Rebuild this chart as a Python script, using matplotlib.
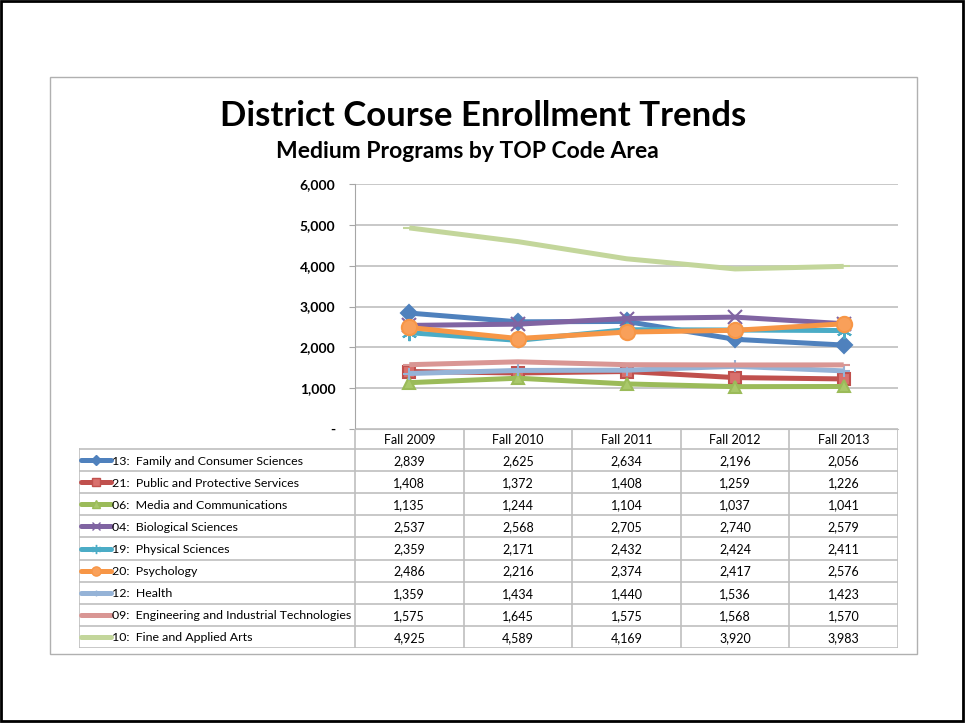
import matplotlib
matplotlib.use("Agg")
import matplotlib.pyplot as plt
from matplotlib.patches import Rectangle
from matplotlib.lines import Line2D
from matplotlib.ticker import FuncFormatter

plt.rcParams['font.family'] = ['Lato', 'DejaVu Sans']

# datos
anios = ["Fall 2009", "Fall 2010", "Fall 2011", "Fall 2012", "Fall 2013"]

programas = [
    "13:  Family and Consumer Sciences",
    "21:  Public and Protective Services",
    "06:  Media and Communications",
    "04:  Biological Sciences",
    "19:  Physical Sciences",
    "20:  Psychology",
    "12:  Health",
    "09:  Engineering and Industrial Technologies",
    "10:  Fine and Applied Arts",
]

familia = [2839, 2625, 2634, 2196, 2056]
publico = [1408, 1372, 1408, 1259, 1226]
medios = [1135, 1244, 1104, 1037, 1041]
biologia = [2537, 2568, 2705, 2740, 2579]
fisica = [2359, 2171, 2432, 2424, 2411]
psicologia = [2486, 2216, 2374, 2417, 2576]
salud = [1359, 1434, 1440, 1536, 1423]
ingenieria = [1575, 1645, 1575, 1568, 1570]
artes = [4925, 4589, 4169, 3920, 3983]

series = [familia, publico, medios, biologia, fisica, psicologia, salud, ingenieria, artes]

# estilos (colores de Excel)
colores = ["#4F81BD", "#C0504D", "#9BBB59", "#8064A2", "#4BACC6",
           "#F79646", "#95B3D7", "#D99694", "#C3D69B"]
marcadores = ["D", "s", "^", "x", (6, 2, 0), "o", "+", "_", "_"]
tam_marc = [8, 9, 9, 10, 11, 11, 8, 8, 8]
caras = ["#4F81BD", "#D9706D", "#A9C86A", "#8064A2", "#4BACC6",
         "#F9A05A", "#95B3D7", "#D99694", "#C3D69B"]

W, H = 965, 723
fig = plt.figure(figsize=(W / 100, H / 100), dpi=100)


def fx(x):
    return x / W


def fy(y):
    return 1 - y / H


# marcos
fig.patches.append(Rectangle((fx(1), fy(721)), fx(962), (720) / H, transform=fig.transFigure,
                             fill=False, edgecolor="black", linewidth=2))
fig.patches.append(Rectangle((fx(50), fy(654)), fx(917 - 50), (654 - 77) / H, transform=fig.transFigure,
                             fill=False, edgecolor="#b0b0b0", linewidth=1))

# titulos
fig.text(fx(483), fy(116), "District Course Enrollment Trends", ha="center", va="center",
         fontsize=25, fontweight="bold")
fig.text(fx(467), fy(152), "Medium Programs by TOP Code Area", ha="center", va="center",
         fontsize=16.5, fontweight="bold")

# grafica
izq, der, arriba, abajo = 355, 898, 184, 429
ax = fig.add_axes([fx(izq), fy(abajo), fx(der - izq), (abajo - arriba) / H])
x = range(len(anios))
for i, datos in enumerate(series):
    ax.plot(x, datos, color=colores[i], linewidth=3.6, marker=marcadores[i],
            markersize=tam_marc[i], markerfacecolor=caras[i], markeredgecolor=colores[i],
            markeredgewidth=1.5, solid_capstyle="butt", zorder=3 + i)

ax.set_xlim(-0.5, len(anios) - 0.5)
ax.set_ylim(0, 6000)
ax.set_yticks(range(0, 6001, 1000))
ax.yaxis.set_major_formatter(FuncFormatter(lambda v, p: "-" if v == 0 else f"{int(v):,}"))
ax.set_xticks([])
ax.grid(axis="y", color="#bfbfbf", linewidth=1.2)
ax.set_axisbelow(True)
for s in ["top", "right"]:
    ax.spines[s].set_visible(False)
ax.spines["left"].set_color("#a6a6a6")
ax.spines["bottom"].set_color("#bfbfbf")
ax.tick_params(axis="y", length=4, color="#a6a6a6", labelsize=10, pad=10)
for t in ax.get_yticklabels():
    t.set_fontweight("bold")

# tabla
t_izq, t_arr, t_enc, t_fin = 79, 429, 449, 648
tax = fig.add_axes([fx(t_izq), fy(t_fin), fx(der - t_izq), (t_fin - t_arr) / H])
tax.set_xlim(t_izq, der)
tax.set_ylim(t_fin, t_arr)
tax.axis("off")

n = len(programas)
alto = (t_fin - t_enc) / n
ancho = (der - izq) / len(anios)
gris = "#bfbfbf"

tax.plot([izq, der], [t_arr, t_arr], color=gris, lw=1.2)
for k in range(n + 1):
    yy = t_enc + k * alto
    tax.plot([t_izq, der], [yy, yy], color=gris, lw=1.2)
tax.plot([t_izq, t_izq], [t_enc, t_fin], color=gris, lw=1.2)
for c in range(len(anios) + 1):
    xx = izq + c * ancho
    tax.plot([xx, xx], [t_arr, t_fin], color=gris, lw=1.2)

for c, a in enumerate(anios):
    tax.text(izq + (c + 0.5) * ancho, (t_arr + t_enc) / 2 + 1, a, ha="center", va="center", fontsize=9)

for i, nombre in enumerate(programas):
    yc = t_enc + (i + 0.5) * alto
    tax.add_line(Line2D([81, 96, 111], [yc, yc, yc], color=colores[i], linewidth=3.6,
                        solid_capstyle="round", marker=marcadores[i], markevery=[1],
                        markersize=tam_marc[i] * 0.6, markerfacecolor=caras[i],
                        markeredgecolor=colores[i]))
    tax.text(112, yc + 1, nombre, ha="left", va="center", fontsize=8.9)
    for c, v in enumerate(series[i]):
        tax.text(izq + (c + 0.5) * ancho, yc + 1, f"{v:,}", ha="center", va="center", fontsize=9)

fig.savefig("out.png", dpi=100)
